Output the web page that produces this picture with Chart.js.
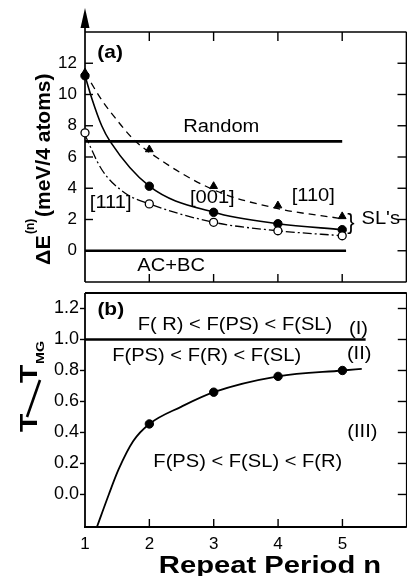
<!DOCTYPE html>
<html>
<head>
<meta charset="utf-8">
<script src="https://cdn.jsdelivr.net/npm/chart.js@4.4.1/dist/chart.umd.min.js"></script>
<style>
  body { margin: 0; background: #fff; overflow: hidden; width: 407px; height: 576px; position: relative; }
  #chartA { position: absolute; left: 0; top: 0; }
  #chartB { position: absolute; left: 0; top: 285px; }
</style>
</head>
<body>
<canvas id="chartA" width="412" height="290"></canvas>
<canvas id="chartB" width="412" height="291"></canvas>
<script>
// repeat period n
var periods = [1, 2, 3, 4, 5];

// (a) Delta E(n), meV / 4 atoms, symbols
var e110 = [11.4, 6.48, 4.13, 2.89, 2.2];
var e001 = [11.2, 4.13, 2.46, 1.73, 1.35];
var e111 = [7.55, 3.0, 1.82, 1.28, 0.96];

// (a) the drawn curves
var fit110N = [1, 1.26, 1.47, 1.75, 2, 3, 4, 5];
var fit110E = [11.4, 9.65, 8.5, 7.15, 6.3, 3.9, 2.7, 2.05];
var fit001N = [1, 1.11, 1.26, 1.39, 2, 3, 4, 5];
var fit001E = [11.2, 9.7, 8.0, 7.0, 4.13, 2.46, 1.73, 1.35];
var fit111N = [1, 1.26, 1.62, 2, 3, 4, 5];
var fit111E = [7.4, 5.2, 3.7, 3.0, 1.82, 1.28, 0.96];

// (a) reference levels
var randomN = [1, 5];
var randomE = [7, 7];
var acbcN = [1, 5.06];
var acbcE = [0, 0];
var ticksA = [0, 2, 4, 6, 8, 10, 12];

// (b) T / T_MG
var tcN = [2, 3, 4, 5];
var tcRatio = [0.455, 0.66, 0.762, 0.80];
var tcFitN = [1.185, 1.37, 1.52, 1.75, 2, 2.5, 3, 4, 5, 5.3];
var tcFitR = [-0.21, 0, 0.16, 0.345, 0.455, 0.567, 0.66, 0.762, 0.80, 0.81];
var mgN = [1, 5.36];
var mgR = [1, 1];
var ticksBy = [0, 0.2, 0.4, 0.6, 0.8, 1.0, 1.2];
var ticksBx = [1, 2, 3, 4, 5];

var FONT = "'Liberation Sans', Arial, sans-serif";

function pts(xs, ys) {
  return xs.map(function (x, i) { return { x: x, y: ys[i] }; });
}

function seg(ctx, x1, y1, x2, y2) {
  ctx.beginPath();
  ctx.moveTo(x1, y1);
  ctx.lineTo(x2, y2);
  ctx.stroke();
}

// horizontally stretched text, the scan's type is wider than Helvetica
function label(ctx, text, x, y, font, sx, align) {
  ctx.save();
  ctx.font = font;
  ctx.fillStyle = '#000';
  ctx.textAlign = align || 'center';
  ctx.textBaseline = 'middle';
  ctx.translate(x, y);
  ctx.scale(sx || 1, 1);
  ctx.fillText(text, 0, 0);
  ctx.restore();
}

// text reading bottom to top, (x, y) = start of baseline
function vlabel(ctx, text, x, y, font, sx) {
  ctx.save();
  ctx.font = font;
  ctx.fillStyle = '#000';
  ctx.textAlign = 'left';
  ctx.textBaseline = 'alphabetic';
  ctx.translate(x, y);
  ctx.rotate(-Math.PI / 2);
  ctx.scale(sx || 1, 1);
  ctx.fillText(text, 0, 0);
  ctx.restore();
}

var frameA = {
  id: 'frameA',
  beforeDatasetsDraw: function (chart) {
    var ctx = chart.ctx, a = chart.chartArea;
    var xs = chart.scales.x, ys = chart.scales.y;
    ctx.save();
    ctx.strokeStyle = '#000';
    ctx.fillStyle = '#000';
    ctx.lineWidth = 1.7;
    // energy axis runs up to an arrow
    seg(ctx, a.left, a.bottom, a.left, 20);
    ctx.beginPath();
    ctx.moveTo(a.left, 8);
    ctx.lineTo(a.left - 4.5, 28);
    ctx.lineTo(a.left + 4.5, 28);
    ctx.closePath();
    ctx.fill();
    seg(ctx, a.left, a.top, a.right, a.top);
    seg(ctx, a.left, a.bottom, a.right, a.bottom);
    seg(ctx, a.right, a.top, a.right, a.bottom);
    ctx.lineWidth = 1.4;
    ticksA.forEach(function (v) {
      var y = ys.getPixelForValue(v);
      seg(ctx, a.left, y, a.left + 8, y);
      seg(ctx, a.right - 9, y, a.right, y);
    });
    [2, 3, 4, 5].forEach(function (n) {
      var x = xs.getPixelForValue(n);
      seg(ctx, x, a.top, x, a.top + 9);
      seg(ctx, x, a.bottom, x, a.bottom - 8);
    });
    ctx.restore();
  },
  afterDraw: function (chart) {
    var ctx = chart.ctx;
    var X = function (v) { return chart.scales.x.getPixelForValue(v); };
    var Y = function (v) { return chart.scales.y.getPixelForValue(v); };
    var reg = '17.5px ' + FONT;
    label(ctx, '(a)', X(1.39), Y(12.7), 'bold 19px ' + FONT, 1.1);
    label(ctx, 'Random', X(3.12), Y(7.9), reg, 1.15);
    label(ctx, 'AC+BC', X(2.34), Y(-0.96), reg, 1.15);
    label(ctx, '[111]', X(1.40), Y(3.05), reg, 1.15);
    label(ctx, '[001]', X(2.98), Y(3.34), reg, 1.15);
    label(ctx, '[110]', X(4.55), Y(3.47), reg, 1.15);
    label(ctx, '}', X(5.08), Y(1.75), '22px ' + FONT, 1, 'left');
    label(ctx, "SL's", X(5.3), Y(2.05), reg, 1.15, 'left');
    // axis title
    vlabel(ctx, '\u0394E', 50, 265, 'bold 20px ' + FONT, 1.07);
    vlabel(ctx, '(n)', 34, 234, 'bold 12px ' + FONT, 1.0);
    vlabel(ctx, '(meV/4 atoms)', 50, 217, 'bold 20px ' + FONT, 1.05);
  }
};

var frameB = {
  id: 'frameB',
  beforeDatasetsDraw: function (chart) {
    var ctx = chart.ctx, a = chart.chartArea;
    var xs = chart.scales.x, ys = chart.scales.y;
    ctx.save();
    ctx.strokeStyle = '#000';
    ctx.lineWidth = 1.8;
    seg(ctx, a.left, a.top, a.left, a.bottom);
    seg(ctx, a.left, a.top, a.right, a.top);
    seg(ctx, a.left - 1, a.bottom, a.right, a.bottom);
    seg(ctx, a.right, a.top, a.right, a.bottom);
    ctx.lineWidth = 1.4;
    ticksBy.forEach(function (v) {
      var y = ys.getPixelForValue(v);
      seg(ctx, a.left - 5, y, a.left, y);
      seg(ctx, a.right - 9, y, a.right, y);
    });
    [2, 3, 4, 5].forEach(function (n) {
      var x = xs.getPixelForValue(n);
      seg(ctx, x, a.bottom, x, a.bottom - 8);
    });
    ctx.restore();
  },
  afterDraw: function (chart) {
    var ctx = chart.ctx;
    var X = function (v) { return chart.scales.x.getPixelForValue(v); };
    var Y = function (v) { return chart.scales.y.getPixelForValue(v); };
    var reg = '17.5px ' + FONT;
    label(ctx, '(b)', X(1.40), Y(1.195), 'bold 19px ' + FONT, 1.1);
    label(ctx, 'F( R) < F(PS) < F(SL)', X(3.33), Y(1.093), reg, 1.15);
    label(ctx, '(I)', X(5.25), Y(1.065), reg, 1.15);
    label(ctx, 'F(PS) < F(R) < F(SL)', X(2.89), Y(0.892), reg, 1.15);
    label(ctx, '(II)', X(5.26), Y(0.906), reg, 1.15);
    label(ctx, '(III)', X(5.31), Y(0.405), reg, 1.15);
    label(ctx, 'F(PS) < F(SL) < F(R)', X(3.53), Y(0.21), reg, 1.15);
    label(ctx, 'Repeat Period n', 270, 282, 'bold 23px ' + FONT, 1.27);
    // T / T_MG
    vlabel(ctx, 'T', 37, 147, 'bold 23px ' + FONT, 1.3);
    ctx.save();
    ctx.strokeStyle = '#000';
    ctx.lineWidth = 2.6;
    seg(ctx, 27, 132, 40, 95);
    ctx.restore();
    vlabel(ctx, 'T', 37, 98, 'bold 23px ' + FONT, 1.3);
    vlabel(ctx, 'MG', 44, 79, 'bold 11px ' + FONT, 1.3);
  }
};

var tickFontA = { family: FONT, size: 17 };
var tickFontB = { family: FONT, size: 18 };

new Chart(document.getElementById('chartA'), {
  type: 'scatter',
  data: {
    datasets: [
      { data: pts(periods, e111), showLine: false, pointStyle: 'circle', pointRadius: 4,
        pointBackgroundColor: '#fff', pointBorderColor: '#000', pointBorderWidth: 1.3, clip: false },
      { data: pts(periods, e001), showLine: false, pointStyle: 'circle', pointRadius: 4.2,
        pointBackgroundColor: '#000', pointBorderColor: '#000', pointBorderWidth: 1, clip: false },
      { data: pts(periods, e110), showLine: false, pointStyle: 'triangle', pointRadius: 4.5,
        pointBackgroundColor: '#000', pointBorderColor: '#000', pointBorderWidth: 1, clip: false },
      { data: pts(fit001N, fit001E), showLine: true, pointRadius: 0, borderColor: '#000',
        borderWidth: 1.6, cubicInterpolationMode: 'monotone' },
      { data: pts(fit110N, fit110E), showLine: true, pointRadius: 0, borderColor: '#000',
        borderWidth: 1.3, borderDash: [7, 5], cubicInterpolationMode: 'monotone' },
      { data: pts(fit111N, fit111E), showLine: true, pointRadius: 0, borderColor: '#000',
        borderWidth: 1.3, borderDash: [9, 3, 2, 3], cubicInterpolationMode: 'monotone' },
      { data: pts(randomN, randomE), showLine: true, pointRadius: 0, borderColor: '#000', borderWidth: 2.6 },
      { data: pts(acbcN, acbcE), showLine: true, pointRadius: 0, borderColor: '#000', borderWidth: 2.6 }
    ]
  },
  options: {
    responsive: false,
    animation: false,
    devicePixelRatio: 1,
    events: [],
    layout: { padding: { left: 0, top: 32, right: 3, bottom: 8 } },
    plugins: { legend: { display: false }, tooltip: { enabled: false } },
    scales: {
      x: { type: 'linear', min: 1, max: 6, display: false },
      y: {
        type: 'linear', min: -2, max: 14,
        afterBuildTicks: function (s) { s.ticks = ticksA.map(function (v) { return { value: v }; }); },
        afterFit: function (s) { s.width = 85; s.paddingTop = 0; s.paddingBottom = 0; },
        grid: { display: false, drawTicks: false },
        border: { display: false },
        ticks: { padding: 8, color: '#000', font: tickFontA, callback: function (v) { return String(v); } }
      }
    }
  },
  plugins: [frameA]
});

new Chart(document.getElementById('chartB'), {
  type: 'scatter',
  data: {
    datasets: [
      { data: pts(tcN, tcRatio), showLine: false, pointStyle: 'circle', pointRadius: 4.2,
        pointBackgroundColor: '#000', pointBorderColor: '#000', pointBorderWidth: 1 },
      { data: pts(tcFitN, tcFitR), showLine: true, pointRadius: 0, borderColor: '#000',
        borderWidth: 1.8, cubicInterpolationMode: 'monotone' },
      { data: pts(mgN, mgR), showLine: true, pointRadius: 0, borderColor: '#000', borderWidth: 2.6 }
    ]
  },
  options: {
    responsive: false,
    animation: false,
    devicePixelRatio: 1,
    events: [],
    layout: { padding: { left: 0, top: 8, right: 3, bottom: 0 } },
    plugins: { legend: { display: false }, tooltip: { enabled: false } },
    scales: {
      x: {
        type: 'linear', min: 1, max: 6,
        afterBuildTicks: function (s) { s.ticks = ticksBx.map(function (v) { return { value: v }; }); },
        afterFit: function (s) { s.height = 49; s.paddingLeft = 0; s.paddingRight = 0; },
        grid: { display: false, drawTicks: false },
        border: { display: false },
        ticks: { padding: 7, color: '#000', font: { family: FONT, size: 17 }, maxRotation: 0, autoSkip: false,
          callback: function (v) { return String(v); } }
      },
      y: {
        type: 'linear', min: -0.21, max: 1.3,
        afterBuildTicks: function (s) { s.ticks = ticksBy.map(function (v) { return { value: v }; }); },
        afterFit: function (s) { s.width = 85; s.paddingTop = 0; s.paddingBottom = 0; },
        grid: { display: false, drawTicks: false },
        border: { display: false },
        ticks: { padding: 6, color: '#000', font: tickFontB, callback: function (v) { return v.toFixed(1); } }
      }
    }
  },
  plugins: [frameB]
});
</script>
</body>
</html>
